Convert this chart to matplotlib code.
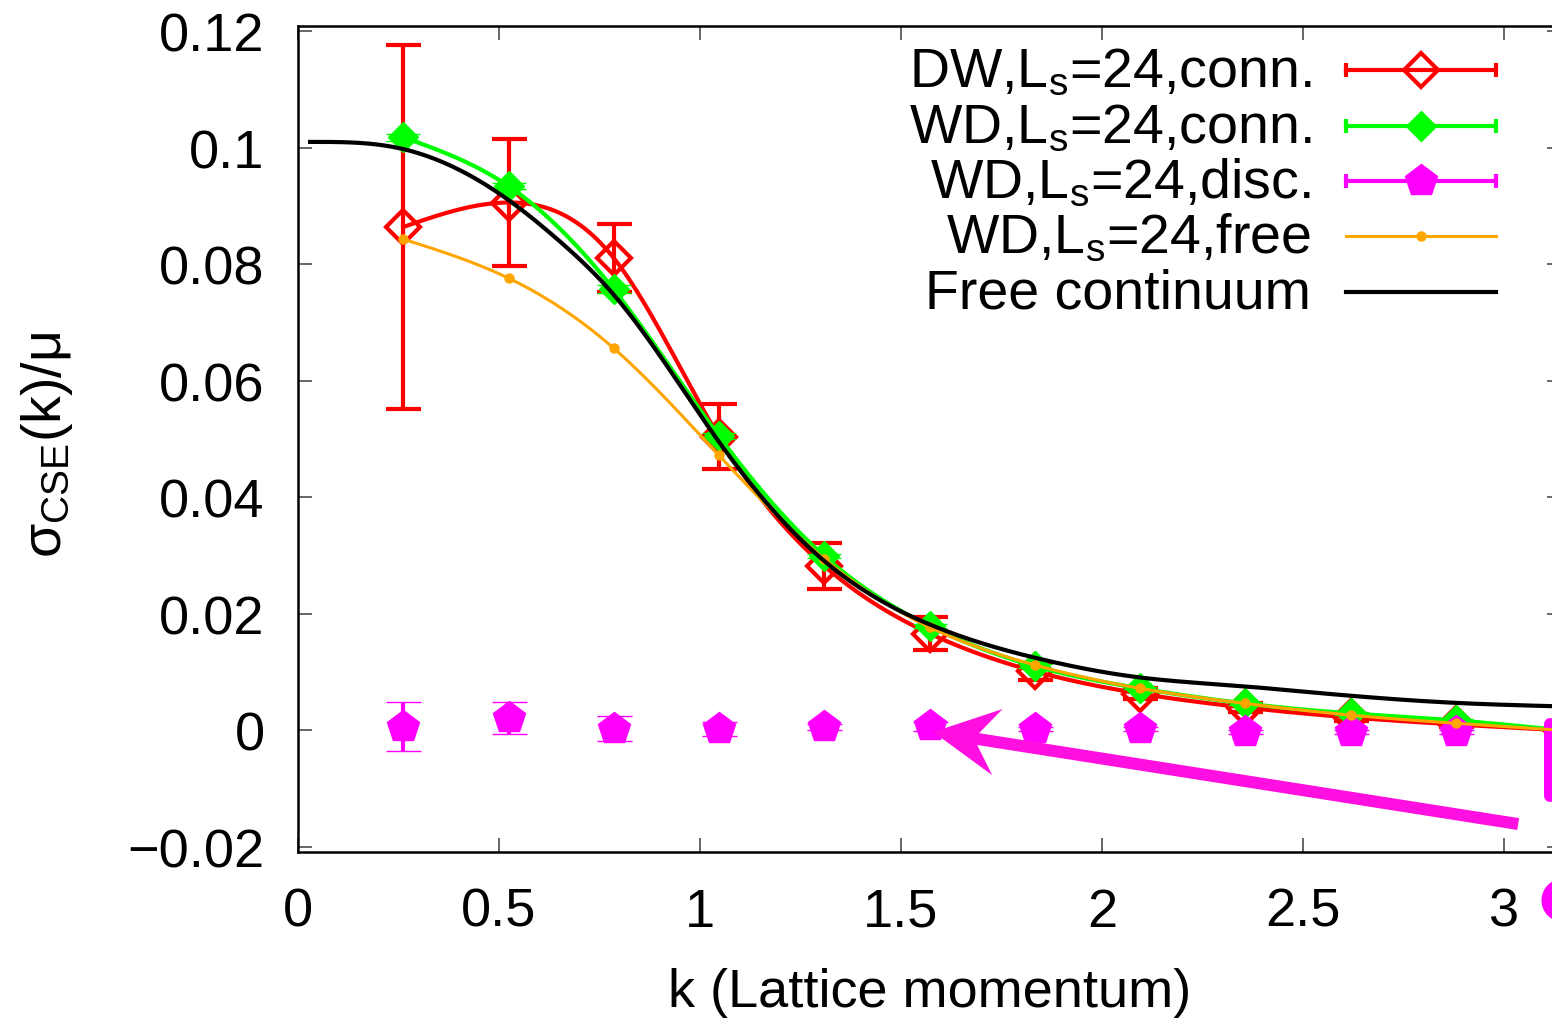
import numpy as np
import matplotlib
matplotlib.use("Agg")
import matplotlib.pyplot as plt
from matplotlib.patches import FancyArrow, Ellipse
from matplotlib.transforms import IdentityTransform
from matplotlib.ticker import FuncFormatter

plt.rcParams['font.family'] = ['Liberation Sans', 'DejaVu Sans']
plt.rcParams['mathtext.fontset'] = 'custom'
plt.rcParams['mathtext.rm'] = 'Liberation Sans'
plt.rcParams['mathtext.it'] = 'Liberation Sans:italic'
plt.rcParams['axes.unicode_minus'] = True

# ---------------------------------------------------------------------------
# datos (k = n*pi/12)

k = [0.262, 0.524, 0.785, 1.047, 1.309, 1.571, 1.833, 2.094, 2.356, 2.618, 2.880, 3.1416]

dw_conn = [0.0864, 0.0906, 0.0811, 0.0504, 0.0282, 0.0166, 0.0101, 0.0063, 0.0039, 0.0022, 0.0010, 0.0000]
dw_conn_err = [0.0312, 0.0109, 0.0058, 0.0056, 0.0040, 0.0028, 0.0014, 0.0010, 0.0008, 0.0006, 0.0005, 0.0003]

wd_conn = [0.1018, 0.0934, 0.0757, 0.0505, 0.0299, 0.0179, 0.0110, 0.0072, 0.0046, 0.0029, 0.0017, 0.0000]
wd_conn_err = [0.0006, 0.0005, 0.0007, 0.0005, 0.0004, 0.0003, 0.0003, 0.0002, 0.0002, 0.0002, 0.0002, 0.0002]

wd_disc = [0.0006, 0.0021, 0.0003, 0.0002, 0.0005, 0.0007, 0.0002, 0.0002, -0.0003, -0.0003, -0.0003, 0.0000]
wd_disc_err = [0.0042, 0.0027, 0.0022, 0.0012, 0.0005, 0.0008, 0.0004, 0.0004, 0.0004, 0.0004, 0.0004, 0.0004]

wd_free = [0.0843, 0.0776, 0.0656, 0.0472, 0.0294, 0.0177, 0.0112, 0.0072, 0.0046, 0.0026, 0.0012, 0.0000]

# curva del continuo libre
cont_k = [0.03, 0.26, 0.52, 0.65, 0.78, 0.94, 1.04, 1.31, 1.50, 1.57, 1.83, 2.09, 2.36, 2.49, 2.88, 3.14]
cont_v = [0.1010, 0.0998, 0.0912, 0.0840, 0.0752, 0.0603, 0.0502, 0.0290, 0.0204, 0.0182,
          0.0125, 0.0091, 0.0075, 0.0067, 0.0047, 0.0041]

labels = ['DW,L$_{\\rm s}$=24,conn.', 'WD,L$_{\\rm s}$=24,conn.', 'WD,L$_{\\rm s}$=24,disc.',
          'WD,L$_{\\rm s}$=24,free', 'Free continuum']

RED = '#FF0000'
GREEN = '#00FF00'
MAGENTA = '#FF00FF'
ORANGE = '#FFA500'
ARROW = '#FF10E0'
FS = 39


# ---------------------------------------------------------------------------
# linea suave tipo "smooth csplines" de gnuplot

def csplines(x, y, num=300):
    x = np.asarray(x, float)
    y = np.asarray(y, float)
    n = len(x)
    h = np.diff(x)
    A = np.zeros((n, n))
    b = np.zeros(n)
    A[0, 0] = 1
    A[-1, -1] = 1
    for i in range(1, n - 1):
        A[i, i - 1] = h[i - 1]
        A[i, i] = 2 * (h[i - 1] + h[i])
        A[i, i + 1] = h[i]
        b[i] = 3 * ((y[i + 1] - y[i]) / h[i] - (y[i] - y[i - 1]) / h[i - 1])
    c = np.linalg.solve(A, b)
    xs = np.linspace(x[0], x[-1], num)
    idx = np.clip(np.searchsorted(x, xs) - 1, 0, n - 2)
    dx = xs - x[idx]
    bc = (y[idx + 1] - y[idx]) / h[idx] - h[idx] * (2 * c[idx] + c[idx + 1]) / 3
    dc = (c[idx + 1] - c[idx]) / (3 * h[idx])
    return xs, y[idx] + bc * dx + c[idx] * dx ** 2 + dc * dx ** 3


# ---------------------------------------------------------------------------

fig = plt.figure(figsize=(15.52, 10.2), dpi=100)
# el eje derecho queda un poco fuera de la imagen (como en el original recortado)
ax = fig.add_axes([298 / 1552, 167 / 1020, 1263 / 1552, 826 / 1020])

ax.set_xlim(0, np.pi)
ax.set_ylim(-0.0209, 0.1209)

# DW conn
ax.errorbar(k, dw_conn, yerr=dw_conn_err, fmt='D', ms=17, mfc='none', mec=RED, mew=3,
            ecolor=RED, elinewidth=3, capsize=12.6, capthick=3, zorder=3)
xs, ys = csplines(k, dw_conn)
ax.plot(xs, ys, color=RED, lw=3, zorder=3)

# WD conn
ax.errorbar(k, wd_conn, yerr=wd_conn_err, fmt='D', ms=15, color=GREEN, mec=GREEN, mew=1,
            ecolor=GREEN, elinewidth=3, capsize=12.2, capthick=3, zorder=4)
xs, ys = csplines(k, wd_conn)
ax.plot(xs, ys, color=GREEN, lw=3, zorder=4)

# WD disc
ax.errorbar(k, wd_disc, yerr=wd_disc_err, fmt='p', ms=24, color=MAGENTA, mec=MAGENTA, mew=1,
            ecolor=MAGENTA, elinewidth=3, capsize=12.6, capthick=3, zorder=5)

# WD free
xs, ys = csplines(k, wd_free)
ax.plot(xs, ys, color=ORANGE, lw=2.2, zorder=6)
ax.plot(k, wd_free, 'o', color=ORANGE, ms=6.5, zorder=6)

# continuo
xs, ys = csplines(cont_k, cont_v)
ax.plot(xs, ys, color='black', lw=3, zorder=7)

# ---------------------------------------------------------------------------
# flecha y restos de la anotacion (cortada a la derecha)

p_tail = ax.transData.transform((3.035, -0.0161))
p_tip = ax.transData.transform((1.580, -0.0003))
arrow = FancyArrow(p_tail[0], p_tail[1], p_tip[0] - p_tail[0], p_tip[1] - p_tail[1],
                   width=12, head_width=67, head_length=65, overhang=0.3,
                   length_includes_head=True, color=ARROW, lw=0,
                   transform=IdentityTransform(), zorder=8)
fig.patches.append(arrow)
arrow.set_figure(fig)

ax.plot([3.114, 3.114], [-0.0113, 0.0010], color=MAGENTA, lw=8.6,
        solid_capstyle='round', zorder=5, clip_on=False)
ax.add_patch(Ellipse((3.147, -0.0292), 0.1045, 0.0072, color=MAGENTA, clip_on=False, zorder=8))

# ---------------------------------------------------------------------------
# leyenda manual estilo gnuplot (texto a la izquierda, muestra a la derecha)

leg_y = [0.9467, 0.8789, 0.8123, 0.7458, 0.6780]
x0, x1, xm, xt = 0.830, 0.9485, 0.889, 0.802
tr = ax.transAxes

ax.plot([x0, x1], [leg_y[0]] * 2, color=RED, lw=3, transform=tr, zorder=9)
ax.plot([x0, x1], [leg_y[0]] * 2, '|', color=RED, ms=10, mew=3, transform=tr, zorder=9)
ax.plot([xm], [leg_y[0]], 'D', ms=17, mfc='none', mec=RED, mew=3, transform=tr, zorder=9)

ax.plot([x0, x1], [leg_y[1]] * 2, color=GREEN, lw=3, transform=tr, zorder=9)
ax.plot([x0, x1], [leg_y[1]] * 2, '|', color=GREEN, ms=10, mew=3, transform=tr, zorder=9)
ax.plot([xm], [leg_y[1]], 'D', ms=15, color=GREEN, mew=1, transform=tr, zorder=9)

ax.plot([x0, x1], [leg_y[2]] * 2, color=MAGENTA, lw=3, transform=tr, zorder=9)
ax.plot([x0, x1], [leg_y[2]] * 2, '|', color=MAGENTA, ms=10, mew=3, transform=tr, zorder=9)
ax.plot([xm], [leg_y[2]], 'p', ms=24, color=MAGENTA, mew=1, transform=tr, zorder=9)

ax.plot([x0, x1], [leg_y[3]] * 2, color=ORANGE, lw=2.2, transform=tr, zorder=9)
ax.plot([xm], [leg_y[3]], 'o', ms=6.5, color=ORANGE, transform=tr, zorder=9)

ax.plot([x0, x1], [leg_y[4]] * 2, color='black', lw=3, transform=tr, zorder=9)

for lab, yy in zip(labels, leg_y):
    ax.text(xt, yy - 0.0194, lab, transform=tr, ha='right', va='baseline', fontsize=FS + 1, zorder=9)

# ---------------------------------------------------------------------------
# ejes

fmt = FuncFormatter(lambda v, p: ('%g' % v).replace('-', '\u2212'))
ax.set_xticks([0, 0.5, 1, 1.5, 2, 2.5, 3])
ax.set_yticks([-0.02, 0, 0.02, 0.04, 0.06, 0.08, 0.1, 0.12])
ax.xaxis.set_major_formatter(fmt)
ax.yaxis.set_major_formatter(fmt)
ax.tick_params(direction='in', top=True, right=True, length=10, width=1.2, color='0.3',
               labelsize=FS)
ax.tick_params(axis='x', pad=25)
ax.tick_params(axis='y', pad=24)
for s in ax.spines.values():
    s.set_linewidth(1.8)

fig.text(930 / 1552, (1020 - 993) / 1020, 'k (Lattice momentum)', ha='center', va='center', fontsize=FS)
fig.text(47 / 1552, (1020 - 445) / 1020, '\u03c3$_{\\rm CSE}$(k)/\u03bc', rotation=90,
         ha='center', va='center', fontsize=FS + 1)

fig.savefig('out.png', dpi=100)
